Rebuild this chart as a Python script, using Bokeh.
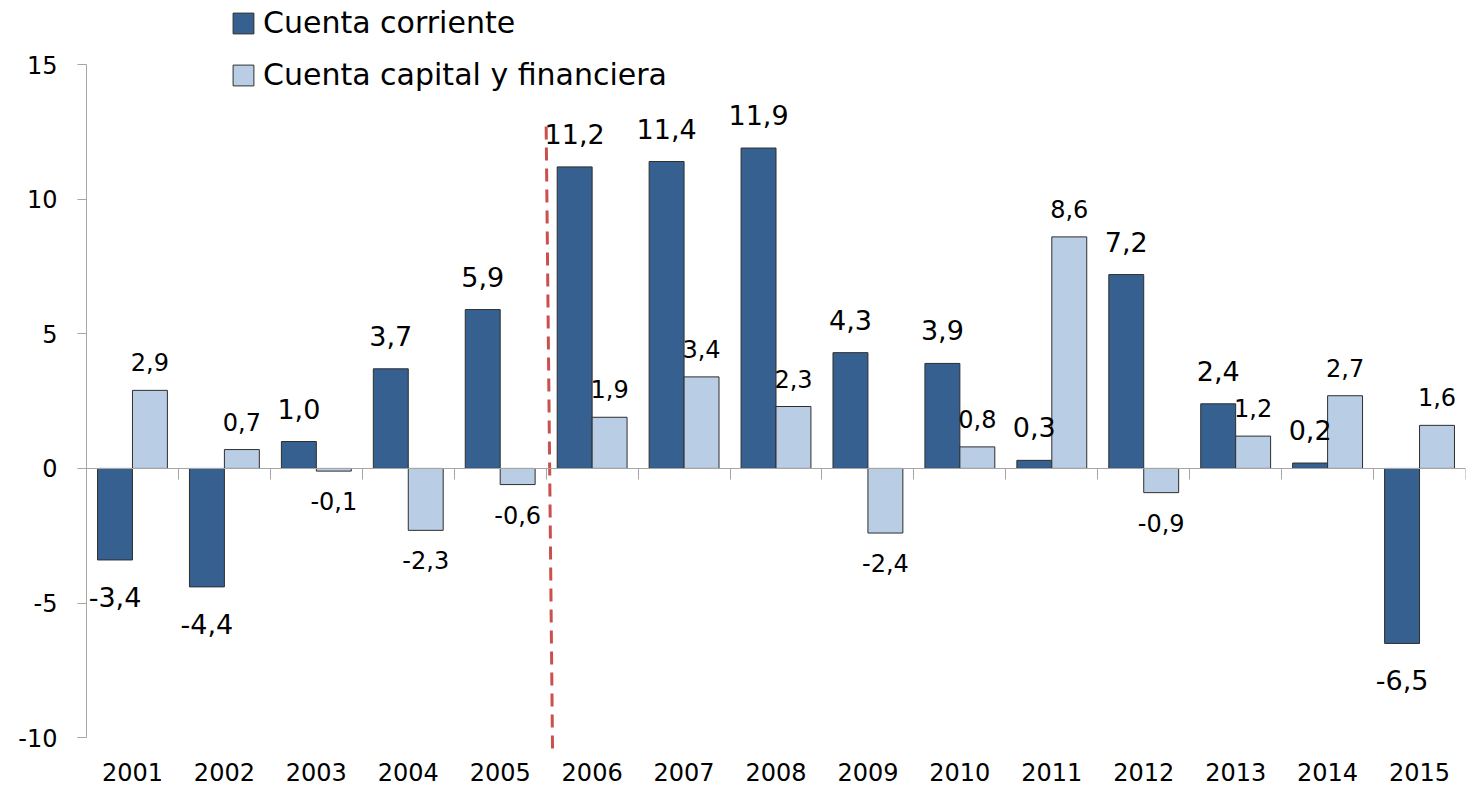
import numpy as np
from bokeh.plotting import figure
from bokeh.models import (ColumnDataSource, FixedTicker, LinearAxis, Legend,
                          LegendItem, Range1d)
from bokeh.core.properties import value
from bokeh.embed import file_html
from bokeh.resources import INLINE

# ---- data -------------------------------------------------------------
years = ["2001", "2002", "2003", "2004", "2005", "2006", "2007", "2008",
         "2009", "2010", "2011", "2012", "2013", "2014", "2015"]
cuenta_corriente = [-3.4, -4.4, 1.0, 3.7, 5.9, 11.2, 11.4, 11.9,
                    4.3, 3.9, 0.3, 7.2, 2.4, 0.2, -6.5]
cuenta_capital = [2.9, 0.7, -0.1, -2.3, -0.6, 1.9, 3.4, 2.3,
                  -2.4, 0.8, 8.6, -0.9, 1.2, 2.7, 1.6]
series_names = ["Cuenta corriente", "Cuenta capital y financiera"]
y_ticks = [-10, -5, 0, 5, 10, 15]
divider_after = "2005"

# ---- style ------------------------------------------------------------
FONT = "DejaVu Sans"
DARK = "#36608F"
LIGHT = "#B9CDE5"
EDGE = "#2E2E2E"
AXIS = "#A6A6A6"
RED = "#C9504D"
BAR_W = 0.38

n = len(years)
centers = np.arange(n) + 0.5


def fmt(v):
    return f"{v:.1f}".replace(".", ",")


src_a = ColumnDataSource(dict(
    x=centers - BAR_W / 2, v=cuenta_corriente,
    lab=[fmt(v) for v in cuenta_corriente],
    off=[-33 if v >= 0 else 37 for v in cuenta_corriente]))
src_b = ColumnDataSource(dict(
    x=centers + BAR_W / 2, v=cuenta_capital,
    lab=[fmt(v) for v in cuenta_capital],
    off=[-28 if v >= 0 else 30 for v in cuenta_capital]))

p = figure(width=1474, height=791, x_range=Range1d(0, n),
           y_range=Range1d(-10.7, 17.38), output_backend="svg",
           toolbar_location=None, x_axis_location=None, y_axis_location=None,
           min_border_left=86, min_border_right=9, min_border_top=0,
           min_border_bottom=35)
p.outline_line_color = None
p.xgrid.visible = False
p.ygrid.visible = False
p.background_fill_color = "white"
p.border_fill_color = "white"

# bars
r1 = p.vbar(x="x", top="v", bottom=0, width=BAR_W, source=src_a,
            fill_color=DARK, line_color=EDGE, line_width=1)
r2 = p.vbar(x="x", top="v", bottom=0, width=BAR_W, source=src_b,
            fill_color=LIGHT, line_color=EDGE, line_width=1)

# value labels
p.text(x="x", y="v", text="lab", source=src_a, y_offset="off",
       text_align="center", text_baseline="middle",
       text_font=value(FONT), text_font_size="27px", text_color="black")
p.text(x="x", y="v", text="lab", source=src_b, y_offset="off",
       text_align="center", text_baseline="middle",
       text_font=value(FONT), text_font_size="24px", text_color="black")

# dividing dashed line (between 2005 and 2006)
xd = years.index(divider_after) + 1
p.segment(x0=[xd], y0=[12.7], x1=[xd + 0.07], y1=[-10.68],
          line_color=RED, line_width=3, line_dash="13 8")

# y axis
yax = LinearAxis(ticker=FixedTicker(ticks=y_ticks), bounds=(-10, 15))
yax.major_label_overrides = {t: str(t) for t in y_ticks}
yax.axis_line_color = AXIS
yax.major_tick_line_color = AXIS
yax.major_tick_out = 9
yax.major_tick_in = 0
yax.minor_tick_line_color = None
yax.major_label_text_font = FONT
yax.major_label_text_font_size = "24px"
yax.major_label_text_color = "black"
yax.major_label_standoff = 20
p.add_layout(yax, "left")

# zero axis with category separators
zax = LinearAxis(ticker=FixedTicker(ticks=list(range(n + 1))),
                 fixed_location=0)
zax.axis_line_color = AXIS
zax.major_tick_line_color = AXIS
zax.major_tick_out = 11
zax.major_tick_in = 0
zax.minor_tick_line_color = None
zax.major_label_text_font_size = "0px"
zax.major_label_overrides = {i: "" for i in range(n + 1)}
p.add_layout(zax, "below")

# category labels
xax = LinearAxis(ticker=FixedTicker(ticks=list(centers)))
xax.major_label_overrides = {float(c): y for c, y in zip(centers, years)}
xax.axis_line_color = None
xax.major_tick_line_color = None
xax.major_tick_out = 0
xax.major_tick_in = 0
xax.minor_tick_line_color = None
xax.major_label_standoff = 6
xax.major_label_text_font = FONT
xax.major_label_text_font_size = "24px"
xax.major_label_text_color = "black"
p.add_layout(xax, "below")

# legend
legend = Legend(items=[LegendItem(label=series_names[0], renderers=[r1]),
                       LegendItem(label=series_names[1], renderers=[r2])],
                location=(144, 664), orientation="vertical",
                glyph_width=26, glyph_height=26, label_standoff=7,
                spacing=17, padding=0, margin=0,
                label_text_font=FONT, label_text_font_size="30px",
                label_text_color="black",
                border_line_color=None, background_fill_alpha=0)
p.add_layout(legend)

open("out.html", "w").write(file_html(p, INLINE))
